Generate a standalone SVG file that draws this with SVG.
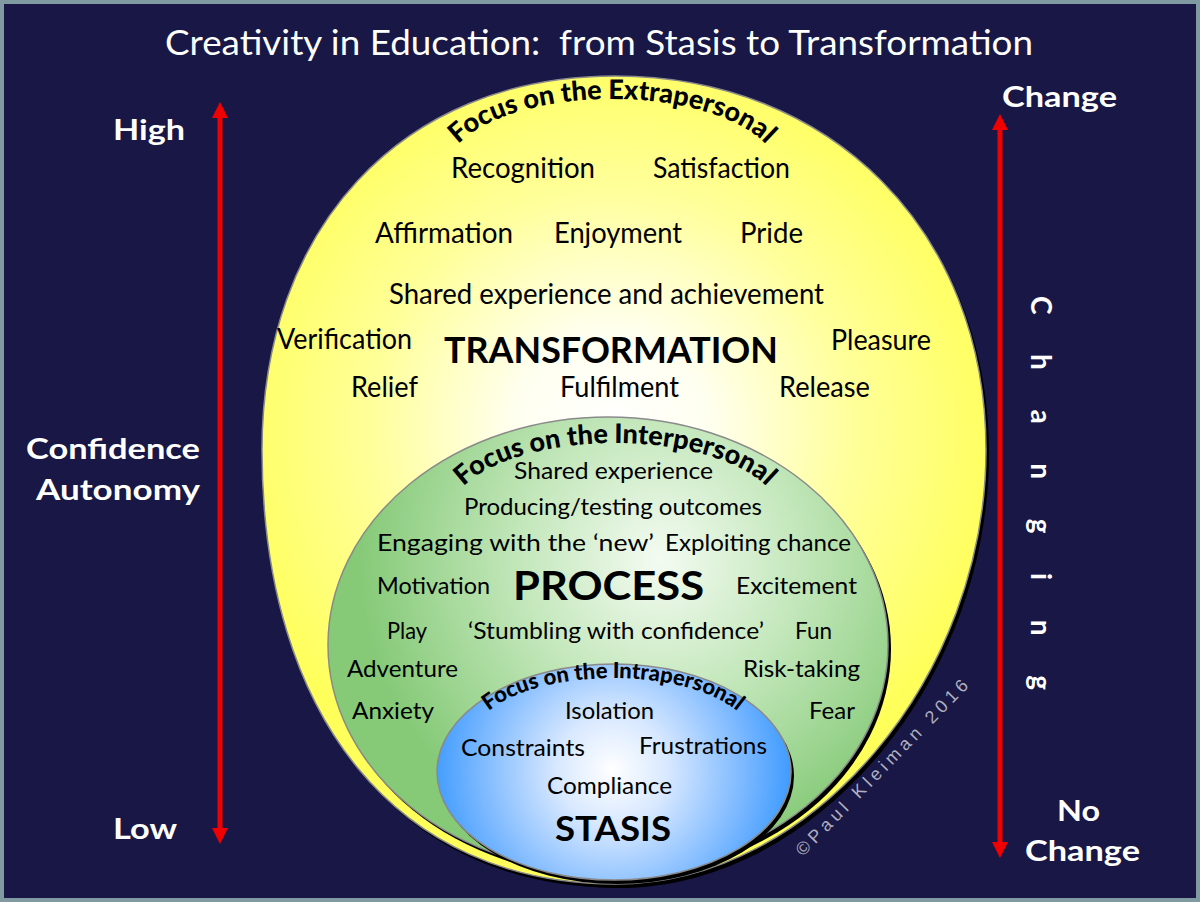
<svg xmlns="http://www.w3.org/2000/svg" width="1200" height="902" viewBox="0 0 1200 902">
<defs>
<radialGradient id="gy" gradientUnits="userSpaceOnUse" cx="612" cy="430" r="390">
<stop offset="0" stop-color="#ffffff"/>
<stop offset="0.25" stop-color="#fffff0"/>
<stop offset="0.62" stop-color="#ffff9a"/>
<stop offset="1" stop-color="#ffff5c"/>
</radialGradient>
<radialGradient id="gg" gradientUnits="userSpaceOnUse" cx="660" cy="560" r="300">
<stop offset="0" stop-color="#f4fbf2"/>
<stop offset="0.45" stop-color="#c5e8bd"/>
<stop offset="1" stop-color="#86ca78"/>
</radialGradient>
<radialGradient id="gb" gradientUnits="userSpaceOnUse" cx="612" cy="770" r="185">
<stop offset="0" stop-color="#ffffff"/>
<stop offset="0.3" stop-color="#d8e8ff"/>
<stop offset="0.75" stop-color="#73b4ff"/>
<stop offset="1" stop-color="#3898ff"/>
</radialGradient>
<path id="egg" d="M 615,76 C 830,76 986,230 986,450 C 986,675 815,884 615,884 C 400,884 262,720 262,450 C 262,230 400,76 615,76 Z"/>
<path id="arcE" d="M 445,173 A 167 74 0 0 1 779,173"/>
<path id="arcI" d="M 450,515 A 165 72 0 0 1 780,515"/>
<path id="arcA" d="M 471,742 A 142 64 0 0 1 755,742"/>
<marker id="ah" viewBox="0 0 16 16" refX="8" refY="8" markerWidth="16" markerHeight="16" markerUnits="userSpaceOnUse" orient="auto-start-reverse">
<path d="M0,0 L16,8 L0,16 Z" fill="#f00000"/>
</marker>
</defs>
<style>
.t{font-family:Lato,"Liberation Sans",sans-serif;fill:#000}
.y{font-size:28px}
.g{font-size:24px}
.b{font-size:24px}
.big{font-weight:bold}
.w{font-family:Lato,"Liberation Sans",sans-serif;fill:#fff;font-weight:bold;font-size:28px}
.arc{font-family:Lato,"Liberation Sans",sans-serif;font-weight:900;fill:#000}
.arr{stroke:#f00000;stroke-width:5;fill:none}
.sh{fill:#000}
.edge{stroke:#8a8a8a;stroke-width:1.5}
.title{font-family:Lato,"Liberation Sans",sans-serif;font-size:35px;fill:#fff;white-space:pre}
</style>
<rect x="0" y="0" width="1200" height="902" fill="#7f9aa0"/>
<rect x="4" y="4" width="1192" height="894" fill="#181745"/>
<text class="title" x="165" y="55" textLength="868" lengthAdjust="spacingAndGlyphs" xml:space="preserve">Creativity in Education:  from Stasis to Transformation</text>

<g id="yellow">
<use href="#egg" class="sh" transform="translate(3,4)"/>
<use href="#egg" class="edge" fill="url(#gy)"/>
<text class="arc" font-size="27"><textPath href="#arcE" startOffset="50%" text-anchor="middle">Focus on the Extrapersonal</textPath></text>
<text class="t y" x="451" y="178" textLength="144" lengthAdjust="spacingAndGlyphs">Recognition</text>
<text class="t y" x="653" y="178" textLength="137" lengthAdjust="spacingAndGlyphs">Satisfaction</text>
<text class="t y" x="375" y="243" textLength="138" lengthAdjust="spacingAndGlyphs">Affirmation</text>
<text class="t y" x="554" y="243" textLength="128" lengthAdjust="spacingAndGlyphs">Enjoyment</text>
<text class="t y" x="740" y="243" textLength="63" lengthAdjust="spacingAndGlyphs">Pride</text>
<text class="t y" x="389" y="304" textLength="435" lengthAdjust="spacingAndGlyphs">Shared experience and achievement</text>
<text class="t y" x="277" y="349" textLength="135" lengthAdjust="spacingAndGlyphs">Verification</text>
<text class="t big" font-size="36" x="444" y="363" textLength="334" lengthAdjust="spacingAndGlyphs">TRANSFORMATION</text>
<text class="t y" x="831" y="350" textLength="100" lengthAdjust="spacingAndGlyphs">Pleasure</text>
<text class="t y" x="351" y="397" textLength="67" lengthAdjust="spacingAndGlyphs">Relief</text>
<text class="t y" x="560" y="397" textLength="119" lengthAdjust="spacingAndGlyphs">Fulfilment</text>
<text class="t y" x="779" y="397" textLength="91" lengthAdjust="spacingAndGlyphs">Release</text>
</g>

<g id="green">
<ellipse class="sh" cx="611" cy="649" rx="280" ry="228"/>
<ellipse class="edge" cx="608" cy="645" rx="280" ry="228" fill="url(#gg)"/>
<text class="arc" font-size="27"><textPath href="#arcI" startOffset="50%" text-anchor="middle">Focus on the Interpersonal</textPath></text>
<text class="t g" x="514" y="479" textLength="199" lengthAdjust="spacingAndGlyphs">Shared experience</text>
<text class="t g" x="464" y="515" textLength="298" lengthAdjust="spacingAndGlyphs">Producing/testing outcomes</text>
<text class="t g" x="377" y="551" textLength="277" lengthAdjust="spacingAndGlyphs">Engaging with the ‘new’</text>
<text class="t g" x="665" y="551" textLength="186" lengthAdjust="spacingAndGlyphs">Exploiting chance</text>
<text class="t g" x="377" y="594" textLength="113" lengthAdjust="spacingAndGlyphs">Motivation</text>
<text class="t big" font-size="40" x="513" y="600" textLength="191" lengthAdjust="spacingAndGlyphs">PROCESS</text>
<text class="t g" x="736" y="594" textLength="121" lengthAdjust="spacingAndGlyphs">Excitement</text>
<text class="t g" x="387" y="639" textLength="40" lengthAdjust="spacingAndGlyphs">Play</text>
<text class="t g" x="468" y="639" textLength="296" lengthAdjust="spacingAndGlyphs">‘Stumbling with confidence’</text>
<text class="t g" x="795" y="639" textLength="37" lengthAdjust="spacingAndGlyphs">Fun</text>
<text class="t g" x="347" y="677" textLength="111" lengthAdjust="spacingAndGlyphs">Adventure</text>
<text class="t g" x="743" y="677" textLength="117" lengthAdjust="spacingAndGlyphs">Risk-taking</text>
<text class="t g" x="352" y="719" textLength="82" lengthAdjust="spacingAndGlyphs">Anxiety</text>
<text class="t g" x="809" y="719" textLength="46" lengthAdjust="spacingAndGlyphs">Fear</text>
</g>

<g id="blue">
<ellipse class="sh" cx="617" cy="776" rx="177" ry="108"/>
<ellipse class="edge" cx="614" cy="772" rx="177" ry="108" fill="url(#gb)"/>
<text class="arc" font-size="22"><textPath href="#arcA" startOffset="50%" text-anchor="middle">Focus on the Intrapersonal</textPath></text>
<text class="t b" x="565" y="719" textLength="89" lengthAdjust="spacingAndGlyphs">Isolation</text>
<text class="t b" x="461" y="756" textLength="124" lengthAdjust="spacingAndGlyphs">Constraints</text>
<text class="t b" x="639" y="754" textLength="128" lengthAdjust="spacingAndGlyphs">Frustrations</text>
<text class="t b" x="547" y="794" textLength="125" lengthAdjust="spacingAndGlyphs">Compliance</text>
<text class="t big" font-size="34" x="555" y="841" textLength="116" lengthAdjust="spacingAndGlyphs">STASIS</text>
</g>

<g id="left-scale">
<text class="w" x="113" y="140" textLength="72" lengthAdjust="spacingAndGlyphs">High</text>
<text class="w" x="26" y="459" textLength="174" lengthAdjust="spacingAndGlyphs">Confidence</text>
<text class="w" x="36" y="500" textLength="164" lengthAdjust="spacingAndGlyphs">Autonomy</text>
<text class="w" x="113" y="839" textLength="64" lengthAdjust="spacingAndGlyphs">Low</text>
</g>

<g id="right-scale">
<text class="w" x="1002" y="107" textLength="115" lengthAdjust="spacingAndGlyphs">Change</text>
<text class="w" x="1057" y="821" textLength="43" lengthAdjust="spacingAndGlyphs">No</text>
<text class="w" x="1025" y="861" textLength="115" lengthAdjust="spacingAndGlyphs">Change</text>
<text class="w" font-size="36" transform="translate(1031,296) rotate(90)" textLength="394" lengthAdjust="spacing">Changing</text>
</g>

<g id="connectors">
<line class="arr" x1="220" y1="110" x2="220" y2="836" marker-start="url(#ah)" marker-end="url(#ah)"/>
<line class="arr" x1="1000" y1="122" x2="1000" y2="850" marker-start="url(#ah)" marker-end="url(#ah)"/>
</g>

<text transform="translate(803,857) rotate(-45.7)" textLength="238" lengthAdjust="spacing" font-family="'Liberation Sans',Arial,sans-serif" font-size="18" fill="#b0b0c0">©Paul Kleiman 2016</text>
</svg>
